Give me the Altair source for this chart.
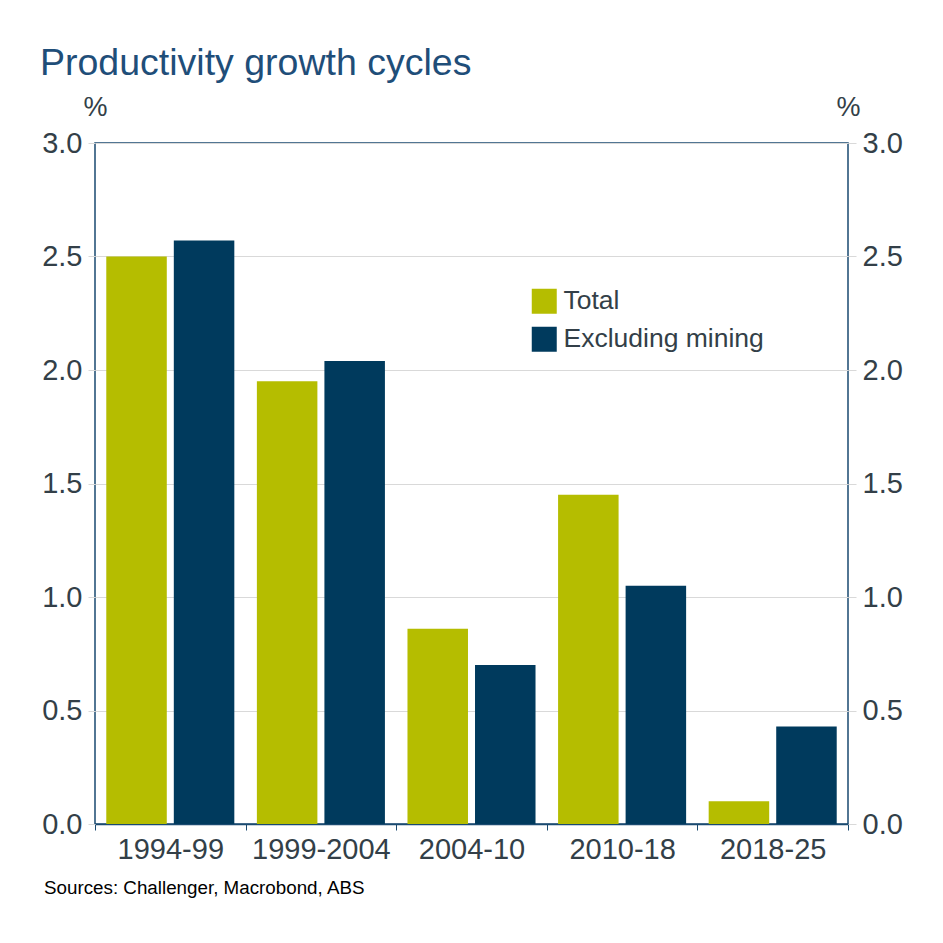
import altair as alt
import pandas as pd

periods = ["1994-99", "1999-2004", "2004-10", "2010-18", "2018-25"]
total = [2.50, 1.95, 0.86, 1.45, 0.10]
excl_mining = [2.57, 2.04, 0.70, 1.05, 0.43]
series = ["Total", "Excluding mining"]
colors = ["#b5bd00", "#003a5d"]
y_ticks = [0.0, 0.5, 1.0, 1.5, 2.0, 2.5, 3.0]
title_text = "Productivity growth cycles"
source_text = "Sources: Challenger, Macrobond, ABS"

rows = []
for p, t, e in zip(periods, total, excl_mining):
    rows.append({"period": p, "series": series[0], "value": t})
    rows.append({"period": p, "series": series[1], "value": e})
df = pd.DataFrame(rows)

FONT = "Liberation Sans"
FRAME = "#1a4a70"
TXT = "#333f48"
GRID = "#d9d9d9"

W, H = 753, 681

x = alt.X(
    "period:N",
    sort=periods,
    scale=alt.Scale(paddingInner=0, paddingOuter=0),
    axis=alt.Axis(
        title=None, tickBand="extent", domainColor=FRAME, domainWidth=1.5,
        tickColor=FRAME, tickSize=6, labelFontSize=29, labelPadding=5,
        labelAngle=0, labelColor=TXT, labelFont=FONT, grid=False,
    ),
)
xoff = alt.XOffset("series:N", sort=series,
                   scale=alt.Scale(paddingInner=0.104, paddingOuter=0.167))
color = alt.Color(
    "series:N", sort=series,
    scale=alt.Scale(domain=series, range=colors),
    legend=alt.Legend(
        title=None, orient="none", legendX=436, legendY=145,
        symbolType="square", symbolSize=625, symbolStrokeWidth=0,
        symbolOpacity=1, labelFontSize=26.5, labelFont=FONT, labelColor=TXT,
        labelOffset=6, rowPadding=11, padding=0, labelLimit=0,
    ),
)
yscale = alt.Scale(domain=[0, 3], nice=False, zero=True)

base = alt.Chart(df)

left = base.mark_bar().encode(
    x=x, xOffset=xoff, color=color,
    y=alt.Y(
        "value:Q", scale=yscale,
        axis=alt.Axis(
            orient="left", values=y_ticks, format=".1f", title="%",
            titleAngle=0, titleX=0, titleY=-28, titleAlign="center",
            titleBaseline="alphabetic", titleFontSize=27, titleFontWeight="normal",
            titleColor=TXT, titleFont=FONT,
            domain=False, grid=True, gridColor=GRID, tickColor=GRID, tickSize=7,
            labelFontSize=29, labelPadding=6, labelColor=TXT, labelFont=FONT,
            zindex=0,
        ),
    ),
)

right = base.mark_bar(opacity=0).encode(
    x=x, xOffset=xoff,
    y=alt.Y(
        "value:Q", scale=yscale,
        axis=alt.Axis(
            orient="right", values=y_ticks, format=".1f", title="%",
            titleAngle=0, titleX=0, titleY=-28, titleAlign="center",
            titleBaseline="alphabetic", titleFontSize=27, titleFontWeight="normal",
            titleColor=TXT, titleFont=FONT,
            domain=False, grid=False, tickColor=GRID, tickSize=8,
            labelFontSize=29, labelPadding=6, labelColor=TXT, labelFont=FONT,
        ),
    ),
)

title = alt.Chart(pd.DataFrame({"t": [title_text]})).mark_text(
    align="left", baseline="alphabetic", fontSize=37.5, font=FONT, color="#1f4e79"
).encode(text="t:N", x=alt.value(-55), y=alt.value(-68))

source = alt.Chart(pd.DataFrame({"t": [source_text]})).mark_text(
    align="left", baseline="alphabetic", fontSize=18.8, font=FONT, color="#000000"
).encode(text="t:N", x=alt.value(-51), y=alt.value(751))

chart = (
    alt.layer(left, right, title, source)
    .resolve_scale(y="independent")
    .properties(
        width=W, height=H,
        autosize=alt.AutoSizeParams(type="none"),
        padding={"left": 95, "top": 143, "right": 95, "bottom": 119},
        background="white",
    )
    .configure_view(stroke=FRAME, strokeWidth=1.5)
)

chart.save("out.html", embed_options={"renderer": "svg", "actions": False})
